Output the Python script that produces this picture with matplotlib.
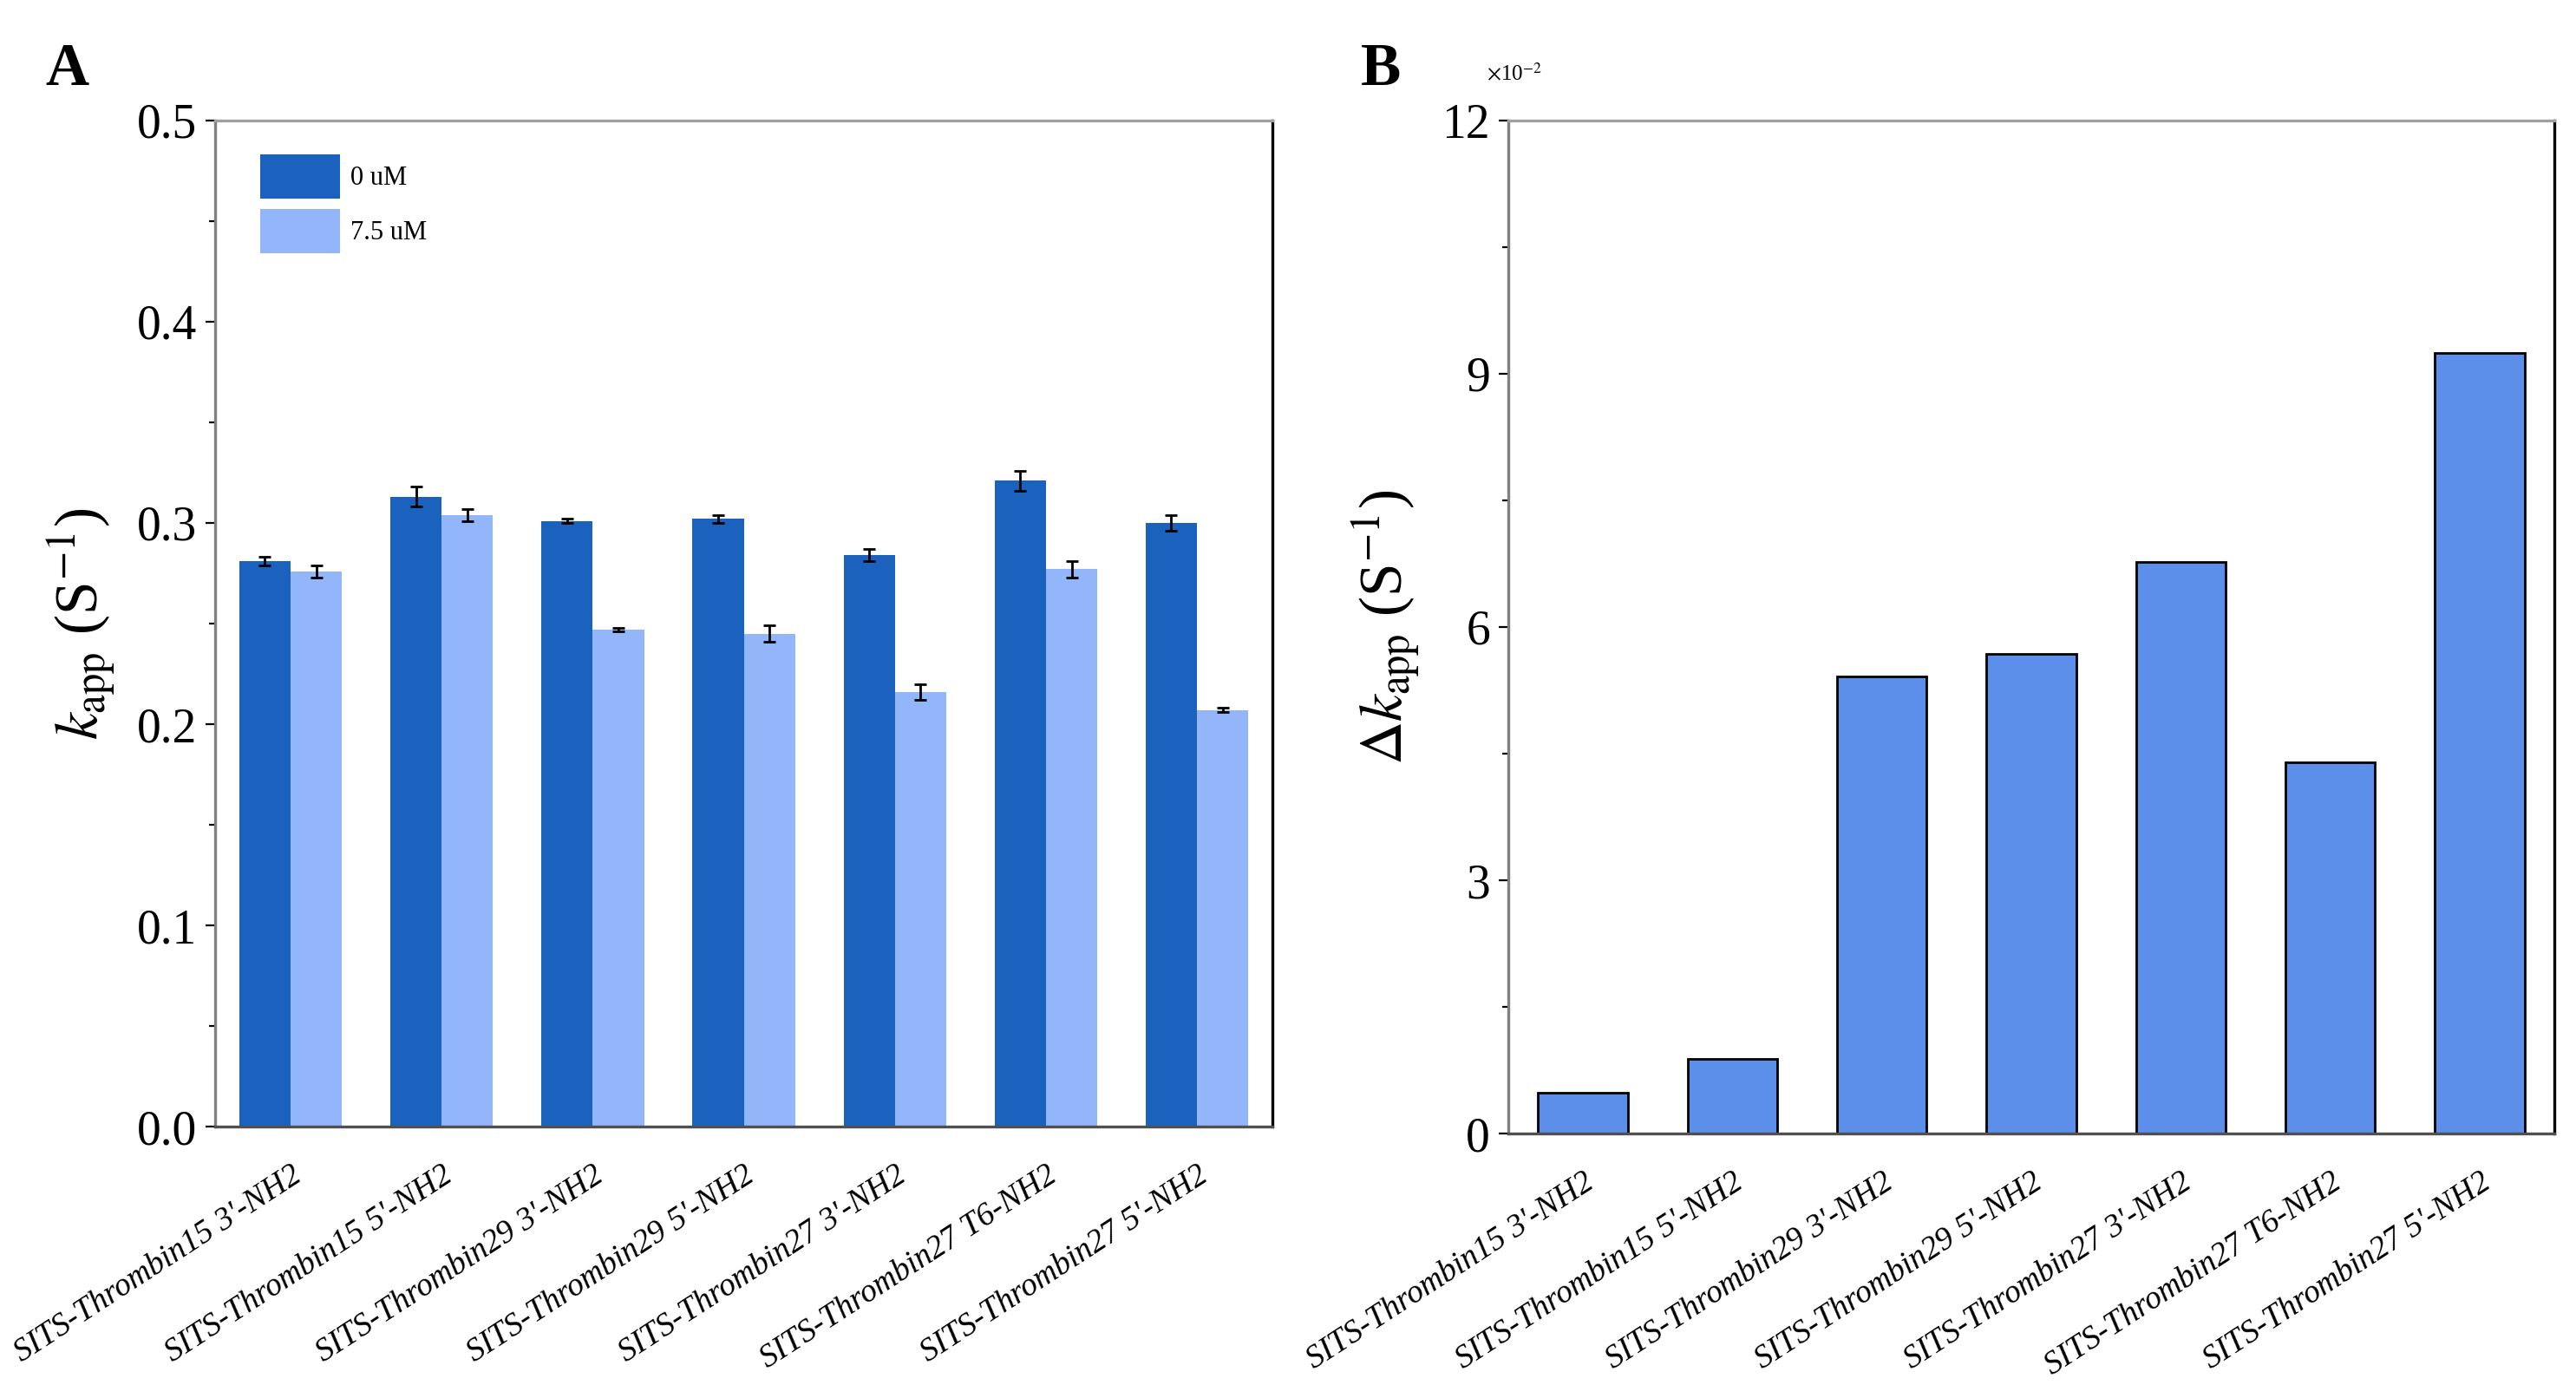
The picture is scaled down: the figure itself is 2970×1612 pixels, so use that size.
import matplotlib
matplotlib.use("Agg")
import matplotlib.pyplot as plt
import numpy as np

# data
labels = ["SITS-Thrombin15 3'-NH2", "SITS-Thrombin15 5'-NH2", "SITS-Thrombin29 3'-NH2",
          "SITS-Thrombin29 5'-NH2", "SITS-Thrombin27 3'-NH2", "SITS-Thrombin27 T6-NH2",
          "SITS-Thrombin27 5'-NH2"]
k_0uM = [0.281, 0.313, 0.301, 0.302, 0.284, 0.321, 0.300]
k_0uM_err = [0.002, 0.005, 0.001, 0.002, 0.003, 0.005, 0.004]
k_75uM = [0.276, 0.304, 0.247, 0.245, 0.216, 0.277, 0.207]
k_75uM_err = [0.003, 0.003, 0.001, 0.004, 0.004, 0.004, 0.001]
delta_k = [0.49, 0.89, 5.41, 5.68, 6.77, 4.40, 9.24]  # x 10^-2

plt.rcParams['font.family'] = ['Liberation Serif', 'DejaVu Serif']
plt.rcParams['mathtext.fontset'] = 'stix'

fig = plt.figure(figsize=(14.85, 8.06), dpi=200)
axA = fig.add_axes([0.0835, 0.194, 0.4105, 0.720])
axB = fig.add_axes([0.5855, 0.189, 0.4061, 0.725])

x = np.arange(len(labels))
w = 0.34

# ---- panel A ----
axA.bar(x - w / 2, k_0uM, w, color='#1a62be', label='0 uM', zorder=2)
axA.bar(x + w / 2, k_75uM, w, color='#93b5f9', label='7.5 uM', zorder=2)
axA.errorbar(x - w / 2, k_0uM, yerr=k_0uM_err, fmt='none', ecolor='black',
             elinewidth=1.0, capsize=2.5, capthick=1.0, zorder=3)
axA.errorbar(x + w / 2, k_75uM, yerr=k_75uM_err, fmt='none', ecolor='black',
             elinewidth=1.0, capsize=2.5, capthick=1.0, zorder=3)
axA.set_xlim(-0.5, 6.5)
axA.set_ylim(0, 0.5)
axA.set_yticks(np.arange(0, 0.51, 0.1))
axA.set_yticks(np.arange(0.05, 0.5, 0.1), minor=True)
axA.set_yticklabels([f"{v:.1f}" for v in np.arange(0, 0.51, 0.1)])
axA.set_ylabel(r"$k_{\rm app}$ (S$^{-1}$)", fontsize=25, labelpad=8)
axA.legend(loc='upper left', bbox_to_anchor=(0.02, 0.99), frameon=False,
           fontsize=11, handlelength=3.0, handleheight=2.2, labelspacing=0.4,
           handletextpad=0.4)

# ---- panel B ----
axB.bar(x, delta_k, 0.6, color='#5b8fea', edgecolor='black', linewidth=1.0, zorder=2)
axB.set_xlim(-0.5, 6.5)
axB.set_ylim(0, 12)
axB.set_yticks([0, 3, 6, 9, 12])
axB.set_yticks([1.5, 4.5, 7.5, 10.5], minor=True)
axB.set_ylabel(r"$\Delta k_{\rm app}$ (S$^{-1}$)", fontsize=25, labelpad=8)
fig.text(0.577, 0.947, r"$\times$10$^{-2}$", fontsize=9, ha='left', va='center')

for ax in (axA, axB):
    ax.set_xticks(x)
    ax.set_xticklabels(labels, rotation=33, ha='right', rotation_mode='anchor',
                       fontsize=13.5, style='italic')
    ax.tick_params(axis='x', length=0, pad=14)
    ax.tick_params(axis='y', which='major', direction='out', length=4,
                   width=0.8, labelsize=20, colors='black')
    ax.tick_params(axis='y', which='minor', direction='out', length=2.5, width=0.8)
    ax.spines['left'].set_color('#808080')
    ax.spines['top'].set_color('#a0a0a0')
    ax.spines['bottom'].set_color('#505050')
    ax.spines['right'].set_color('black')
    for s in ax.spines.values():
        s.set_linewidth(1.2)

fig.text(0.026, 0.950, "A", fontsize=25, fontweight='bold', ha='center', va='center')
fig.text(0.536, 0.950, "B", fontsize=25, fontweight='bold', ha='center', va='center')

fig.savefig("out.png", dpi=200, facecolor='white')
